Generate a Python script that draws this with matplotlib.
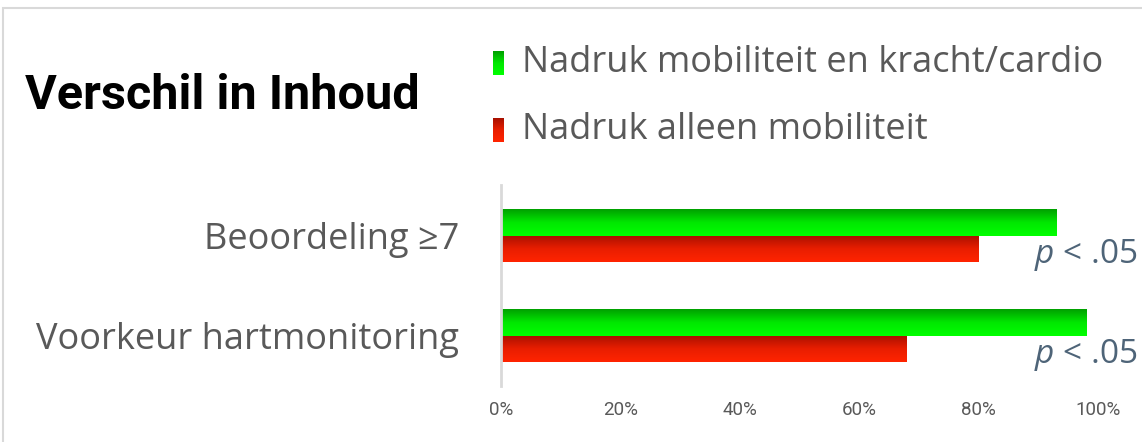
import matplotlib.pyplot as plt
import numpy as np
from matplotlib.colors import LinearSegmentedColormap
from matplotlib.patches import Rectangle

categories = ["Beoordeling \u22657", "Voorkeur hartmonitoring"]
series_names = ["Nadruk mobiliteit en kracht/cardio", "Nadruk alleen mobiliteit"]
green_vals = [0.93, 0.98]
red_vals = [0.80, 0.68]
p_labels = ["< .05", "< .05"]
ticks = [0.0, 0.2, 0.4, 0.6, 0.8, 1.0]

plt.rcParams["font.family"] = ["Open Sans", "DejaVu Sans"]
plt.rcParams["mathtext.fontset"] = "custom"
plt.rcParams["mathtext.it"] = "Open Sans:italic"
plt.rcParams["mathtext.rm"] = "Open Sans"

GRAY = "#595959"
SLATE = "#4e6478"
green_cmap = LinearSegmentedColormap.from_list("g", ["#00a000", "#00e800", "#00ff00"])
red_cmap = LinearSegmentedColormap.from_list("r", ["#a81000", "#e81e00", "#ff2400"])


def gradient_barh(ax, y, width, height, cmap):
    bars = ax.barh(y, width, height=height, color="none", edgecolor="none")
    grad = np.linspace(0, 1, 64).reshape(-1, 1)
    for b in bars:
        x0, y0 = b.get_x(), b.get_y()
        w, h = b.get_width(), b.get_height()
        im = ax.imshow(grad, cmap=cmap, aspect="auto",
                       extent=(x0, x0 + w, y0 + h, y0), zorder=2,
                       interpolation="bicubic")
        im.set_clip_path(b)


fig = plt.figure(figsize=(11.42, 4.42), dpi=100)
fig.patches.append(Rectangle((0.003, -0.1), 1.2, 1.082, transform=fig.transFigure,
                             fill=False, edgecolor="#d9d9d9", linewidth=1.5))

ax = fig.add_axes([0.4387, 0.1267, 0.9615 - 0.4387, 0.4548])
y = np.arange(len(categories))
h = 0.265
gradient_barh(ax, y - h / 2, green_vals, h, green_cmap)
gradient_barh(ax, y + h / 2, red_vals, h, red_cmap)

ax.set_xlim(0, 1)
ax.set_ylim(1.5, -0.51)
ax.set_yticks(y)
ax.set_yticklabels(categories, fontsize=26, color=GRAY)
ax.set_xticks(ticks)
ax.set_xticklabels([f"{int(t * 100)}%" for t in ticks], fontsize=13.5, color=GRAY,
                   family=["Roboto", "DejaVu Sans"])
ax.tick_params(axis="both", length=0)
ax.tick_params(axis="y", pad=30)
ax.tick_params(axis="x", pad=11)
for s in ["top", "right", "bottom"]:
    ax.spines[s].set_visible(False)
ax.spines["left"].set_color("#d9d9d9")
ax.spines["left"].set_linewidth(2)

for i, lab in enumerate(p_labels):
    ax.text(0.892, y[i] + 0.19, r"$p$ " + lab, fontsize=24, color=SLATE,
            va="center", ha="left", clip_on=False)

fig.text(0.022, 0.782, "Verschil in Inhoud", fontsize=35, fontweight="bold",
         color="black", va="center", family=["Roboto", "DejaVu Sans"])

leg_cmaps = [green_cmap, red_cmap]
leg_y = [0.857, 0.706]
for name, cm, ly in zip(series_names, leg_cmaps, leg_y):
    lax = fig.add_axes([0.432, ly - 0.027, 0.0095, 0.054])
    lax.imshow(np.linspace(0, 1, 32).reshape(-1, 1), cmap=cm, aspect="auto")
    lax.set_axis_off()
    fig.text(0.457, ly, name, fontsize=26, color=GRAY, va="center", ha="left")

fig.savefig("out.png", dpi=100)
